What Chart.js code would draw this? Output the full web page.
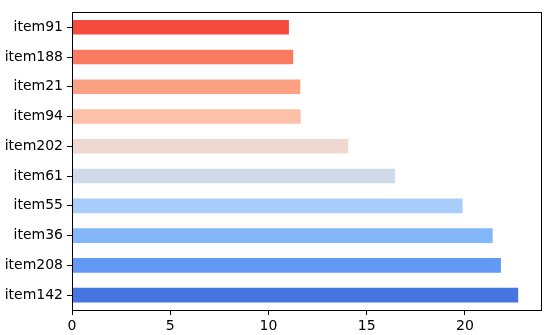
<!DOCTYPE html>
<html>
<head>
<meta charset="utf-8">
<script src="https://cdn.jsdelivr.net/npm/chart.js@4/dist/chart.umd.min.js"></script>
<style>
  html, body { margin: 0; padding: 0; background: #ffffff; }
  #wrap { width: 550px; height: 335px; }
</style>
</head>
<body>
<div id="wrap"><canvas id="chart" width="550" height="335"></canvas></div>
<script>
// Barras horizontales: categorías de arriba abajo
const items = ["item91", "item188", "item21", "item94", "item202", "item61", "item55", "item36", "item208", "item142"];
const values = [11.04, 11.26, 11.62, 11.64, 14.06, 16.45, 19.88, 21.41, 21.83, 22.71];
const barColors = ["#f44d3f", "#fb7b62", "#fca283", "#fdc0a8", "#efd8d0", "#cfdbe9", "#a9cdfb", "#84b6fa", "#6199f5", "#4674e0"];
const xTicks = [0, 5, 10, 15, 20];
const xMax = 23.87;

Chart.defaults.font.family = "'DejaVu Sans', sans-serif";
Chart.defaults.font.size = 14;
Chart.defaults.color = "#000000";

// caja negra alrededor del área de trazado
const frame = {
  id: "frame",
  afterDraw(chart) {
    const { ctx, chartArea: a } = chart;
    ctx.save();
    ctx.strokeStyle = "#000000";
    ctx.lineWidth = 1;
    ctx.strokeRect(Math.round(a.left) + 0.5, Math.round(a.top) + 0.5, Math.round(a.right - a.left), Math.round(a.bottom - a.top));
    ctx.restore();
  },
};

new Chart(document.getElementById("chart").getContext("2d"), {
  type: "bar",
  data: {
    labels: items,
    datasets: [
      {
        data: values,
        backgroundColor: barColors,
        borderWidth: 0,
        categoryPercentage: 1.0,
        barPercentage: 0.49,
      },
    ],
  },
  options: {
    indexAxis: "y",
    responsive: false,
    animation: false,
    layout: { padding: { top: 4, right: 9, bottom: 0, left: 0 } },
    plugins: {
      legend: { display: false },
      tooltip: { enabled: false },
    },
    scales: {
      x: {
        min: 0,
        max: xMax,
        afterBuildTicks: (axis) => {
          axis.ticks = xTicks.map((v) => ({ value: v }));
        },
        afterFit: (axis) => { axis.height = 25; },
        border: { display: false },
        grid: {
          drawOnChartArea: false,
          drawTicks: true,
          tickLength: 5,
          color: "#000000",
        },
        ticks: { padding: 3, color: "#000000" },
      },
      y: {
        afterFit: (axis) => { axis.width = 72; },
        border: { display: false },
        grid: {
          offset: false,
          drawOnChartArea: false,
          drawTicks: true,
          tickLength: 5,
          color: "#000000",
        },
        ticks: { padding: 4, color: "#000000" },
      },
    },
  },
  plugins: [frame],
});
</script>
</body>
</html>
